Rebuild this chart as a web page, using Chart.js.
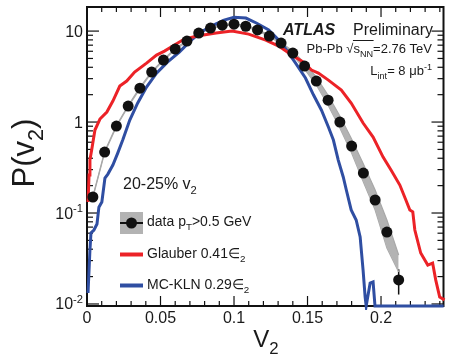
<!DOCTYPE html>
<html>
<head>
<meta charset="utf-8">
<script src="https://cdn.jsdelivr.net/npm/chart.js@4"></script>
<style>
  html, body { margin: 0; padding: 0; background: #fff; }
  #wrap { width: 449px; height: 357px; position: relative; }
</style>
</head>
<body>
<div id="wrap"><canvas id="pv2"></canvas></div>
<script>
const FONT = '"Liberation Sans", Arial, Helvetica, sans-serif';

// measured P(v2), 20-25% centrality, bin centres in v2
const dataV2 = [0.004, 0.012, 0.020, 0.028, 0.036, 0.044, 0.052, 0.060, 0.068, 0.076, 0.084, 0.092, 0.100, 0.108,
                0.116, 0.124, 0.132, 0.140, 0.148, 0.156, 0.164, 0.172, 0.180, 0.188, 0.196, 0.204, 0.212];
const dataP = [0.150, 0.468, 0.904, 1.50, 2.36, 3.54, 4.80, 6.34, 7.77, 9.51, 10.8, 11.6, 11.9, 11.3,
               10.3, 8.81, 7.38, 5.73, 4.12, 2.82, 1.74, 1.00, 0.545, 0.275, 0.139, 0.0618, 0.0184];
const dataStat = [0.004, 0.008, 0.012, 0.016, 0.02, 0.025, 0.03, 0.035, 0.04, 0.045, 0.05, 0.05, 0.05, 0.05,
                  0.05, 0.045, 0.04, 0.035, 0.03, 0.025, 0.02, 0.015, 0.01, 0.007, 0.005, 0.004, 0.0057];
// systematic band edges
const sysLow = [0.148, 0.461, 0.890, 1.48, 2.32, 3.49, 4.73, 6.25, 7.65, 9.37, 10.6, 11.4, 11.7, 11.1,
                10.1, 8.68, 7.27, 5.45, 3.82, 2.55, 1.53, 0.859, 0.456, 0.219, 0.108, 0.0412, 0.0225];
const sysHigh = [0.152, 0.475, 0.918, 1.52, 2.40, 3.59, 4.87, 6.44, 7.89, 9.65, 11.0, 11.8, 12.1, 11.5,
                 10.5, 8.94, 7.49, 6.03, 4.45, 3.12, 1.97, 1.164, 0.651, 0.345, 0.179, 0.0838, 0.0346];

// Glauber 0.41 eps2
const glauberV2 = [0.0007, 0.0014, 0.002, 0.0034, 0.0054, 0.0088, 0.0135, 0.0176, 0.0223, 0.027, 0.0324, 0.0405,
                   0.0473, 0.0527, 0.0595, 0.0662, 0.075, 0.0878, 0.0986, 0.110, 0.1216, 0.1304, 0.1392, 0.1473,
                   0.1527, 0.1574, 0.1642, 0.173, 0.1797, 0.1878, 0.1946, 0.2014, 0.2068, 0.2128, 0.2169, 0.2196,
                   0.2216, 0.223, 0.227, 0.2318, 0.2351, 0.2372, 0.2399, 0.2432];
const glauberP = [0.132, 0.262, 0.382, 0.518, 0.817, 1.08, 1.29, 1.70, 2.49, 2.82, 3.54, 4.45,
                  5.45, 6.03, 7.02, 8.17, 8.81, 9.51, 10.0, 9.27, 7.96, 6.84, 5.45, 4.56,
                  3.73, 3.45, 2.89, 2.25, 1.62, 0.975, 0.684, 0.412, 0.297, 0.203, 0.139, 0.108,
                  0.103, 0.065, 0.0363, 0.0268, 0.0282, 0.0184, 0.0119, 0.0111];

// MC-KLN 0.29 eps2 (empty bins are 0)
const klnV2 = [0.0007, 0.002, 0.0027, 0.0047, 0.0068, 0.0081, 0.0101, 0.0122, 0.0142, 0.0176, 0.0209, 0.0243,
               0.0291, 0.0345, 0.0405, 0.0473, 0.0547, 0.0628, 0.0709, 0.0777, 0.0845, 0.0932, 0.100, 0.1081,
               0.1155, 0.1236, 0.1304, 0.1358, 0.1419, 0.1486, 0.1541, 0.1595, 0.1642, 0.1676, 0.1709, 0.1743,
               0.1764, 0.1797, 0.1831, 0.1858, 0.1878, 0.1892, 0.1899, 0.1926, 0.1946, 0.1959, 0.2426];
const klnP = [0.0132, 0.0392, 0.0603, 0.065, 0.0757, 0.116, 0.132, 0.242, 0.268, 0.337, 0.456, 0.634,
              1.05, 1.62, 2.42, 3.45, 4.56, 5.88, 7.96, 9.75, 11.35, 13.2, 14.2, 13.9,
              12.2, 10.3, 7.96, 6.18, 4.45, 3.05, 1.98, 1.35, 0.881, 0.634, 0.382, 0.249,
              0.179, 0.108, 0.0838, 0.0545, 0.0236, 0.0119, 0, 0.017, 0.0175, 0, 0];

const xTickValues = [0, 0.05, 0.1, 0.15, 0.2];
const xTickLabels = ['0', '0.05', '0.1', '0.15', '0.2'];
const yTickValues = [0.01, 0.1, 1, 10];
const yTickLabels = [['10', '-2'], ['10', '-1'], ['1', ''], ['10', '']];

const X_MAX = 0.2425;
const Y_MIN = 0.0095;
const Y_MAX = 18.4;

const RED = '#ec2227';
const BLUE = '#2f4ea2';
const BAND = '#b3b3b3';

const pts = (xs, ys) => xs.map((v, i) => ({ x: v, y: ys[i] }));
// log axis can't show zero, so empty bins sit on the axis floor
const floorZeros = ys => ys.map(v => (v > 0 ? v : Y_MIN));

// text with sub/superscripts: parts are [text, 'n' | 'sub' | 'sup']
function richText(ctx, parts, x, y, size, align, style) {
  const pre = style ? style + ' ' : '';
  const pieces = parts.map(([t, k]) => {
    const s = k === 'n' ? size : size * 0.7;
    ctx.font = `${pre}${s}px ${FONT}`;
    return { t, k, s, w: ctx.measureText(t).width };
  });
  const total = pieces.reduce((a, p) => a + p.w, 0);
  let cx = align === 'right' ? x - total : align === 'center' ? x - total / 2 : x;
  ctx.textAlign = 'left';
  ctx.textBaseline = 'alphabetic';
  for (const p of pieces) {
    ctx.font = `${pre}${p.s}px ${FONT}`;
    const dy = p.k === 'sub' ? size * 0.3 : p.k === 'sup' ? -size * 0.42 : 0;
    ctx.fillText(p.t, cx, y + dy);
    p.x = cx;
    cx += p.w;
  }
  return pieces;
}

const decorations = {
  id: 'decorations',
  beforeDatasetsDraw(chart) {
    const { ctx, chartArea: a, scales: { x, y } } = chart;
    ctx.save();
    ctx.strokeStyle = '#111';
    ctx.lineWidth = 1.2;
    const seg = (x1, y1, x2, y2) => { ctx.beginPath(); ctx.moveTo(x1, y1); ctx.lineTo(x2, y2); ctx.stroke(); };

    // x ticks every 0.01, longer at 0.05
    for (let k = 0; k * 0.01 <= x.max + 1e-9; k++) {
      const px = x.getPixelForValue(k * 0.01);
      const len = k % 5 === 0 ? 10 : 5;
      seg(px, a.bottom, px, a.bottom - len);
      seg(px, a.top, px, a.top + len);
    }
    // y ticks: decades long, 2..9 short
    for (const d of yTickValues.concat([0.001])) {
      for (let m = 1; m <= 9; m++) {
        const v = m * d;
        if (v < y.min || v > y.max) continue;
        const py = y.getPixelForValue(v);
        const len = m === 1 ? 12 : 6;
        seg(a.left, py, a.left + len, py);
        seg(a.right, py, a.right - len, py);
      }
    }
    ctx.lineWidth = 2;
    ctx.strokeRect(a.left, a.top, a.right - a.left, a.bottom - a.top);

    // statistical error bars
    ctx.lineWidth = 1.5;
    dataV2.forEach((v, i) => {
      const px = x.getPixelForValue(v);
      seg(px, y.getPixelForValue(dataP[i] - dataStat[i]), px, y.getPixelForValue(dataP[i] + dataStat[i]));
    });
    ctx.restore();
  },
  afterDraw(chart) {
    const { ctx, chartArea: a, scales: { y } } = chart;
    ctx.save();
    ctx.fillStyle = '#1a1a1a';

    // y tick labels
    yTickValues.forEach((v, i) => {
      const py = y.getPixelForValue(v);
      const [base, exp] = yTickLabels[i];
      const parts = exp ? [[base, 'n'], [exp, 'sup']] : [[base, 'n']];
      richText(ctx, parts, a.left - 4, py + 5.5, 16, 'right');
    });

    // axis titles
    richText(ctx, [['V', 'n'], ['2', 'sub']], 266, 347, 24, 'center');
    ctx.save();
    ctx.translate(34, 153);
    ctx.rotate(-Math.PI / 2);
    richText(ctx, [['P(v', 'n'], ['2', 'sub'], [')', 'n']], 0, 0, 31, 'center');
    ctx.restore();

    // experiment labels
    richText(ctx, [['ATLAS', 'n']], 283, 35, 16, 'left', 'italic bold');
    richText(ctx, [['Preliminary', 'n']], 433, 35, 16, 'right');
    const pb = richText(ctx, [['Pb-Pb ', 'n'], ['\u221A', 'n'], ['s', 'n'], ['NN', 'sub'], ['=2.76 TeV', 'n']], 432, 53, 13, 'right');
    ctx.strokeStyle = '#1a1a1a';
    ctx.lineWidth = 1;
    ctx.beginPath();
    ctx.moveTo(pb[1].x + pb[1].w - 0.5, 53 - 12.5);
    ctx.lineTo(pb[3].x + pb[3].w + 0.5, 53 - 12.5);
    ctx.stroke();
    richText(ctx, [['L', 'n'], ['int', 'sub'], ['= 8 \u03BCb', 'n'], ['-1', 'sup']], 432, 75, 13, 'right');

    // legend
    richText(ctx, [['20-25% v', 'n'], ['2', 'sub']], 123, 189, 16, 'left');
    ctx.fillStyle = BAND;
    ctx.fillRect(120, 212, 23, 22);
    ctx.strokeStyle = '#111';
    ctx.lineWidth = 2;
    ctx.beginPath(); ctx.moveTo(120, 223); ctx.lineTo(143, 223); ctx.stroke();
    ctx.fillStyle = '#111';
    ctx.beginPath(); ctx.arc(131.5, 223, 5.5, 0, Math.PI * 2); ctx.fill();
    ctx.lineWidth = 4;
    ctx.strokeStyle = RED;
    ctx.beginPath(); ctx.moveTo(120, 254.5); ctx.lineTo(143, 254.5); ctx.stroke();
    ctx.strokeStyle = BLUE;
    ctx.beginPath(); ctx.moveTo(120, 285.5); ctx.lineTo(143, 285.5); ctx.stroke();
    ctx.fillStyle = '#1a1a1a';
    richText(ctx, [['data p', 'n'], ['T', 'sub'], ['>0.5 GeV', 'n']], 147, 226, 14, 'left');
    richText(ctx, [['Glauber 0.41\u2208', 'n'], ['2', 'sub']], 147, 258, 14, 'left');
    richText(ctx, [['MC-KLN 0.29\u2208', 'n'], ['2', 'sub']], 147, 289, 14, 'left');
    ctx.restore();
  }
};

new Chart(document.getElementById('pv2'), {
  type: 'line',
  data: {
    datasets: [
      {
        label: 'data',
        data: pts(dataV2, dataP),
        showLine: false,
        pointRadius: 5.5,
        pointBackgroundColor: '#111',
        pointBorderWidth: 0
      },
      {
        label: 'Glauber',
        data: pts(glauberV2, floorZeros(glauberP)),
        borderColor: RED,
        borderWidth: 3,
        pointRadius: 0,
        tension: 0,
        clip: 4
      },
      {
        label: 'MC-KLN',
        data: pts(klnV2, floorZeros(klnP)),
        borderColor: BLUE,
        borderWidth: 3,
        pointRadius: 0,
        tension: 0,
        clip: 4
      },
      {
        label: 'sys high',
        data: pts(dataV2, sysHigh),
        borderColor: '#a8a8a8',
        borderWidth: 1.2,
        backgroundColor: BAND,
        pointRadius: 0,
        fill: '+1'
      },
      {
        label: 'sys low',
        data: pts(dataV2, sysLow),
        borderColor: '#a8a8a8',
        borderWidth: 1.2,
        pointRadius: 0,
        fill: false
      }
    ]
  },
  options: {
    responsive: true,
    maintainAspectRatio: false,
    animation: false,
    layout: { padding: { top: 7, right: 3, left: 0, bottom: 0 } },
    plugins: { legend: { display: false }, tooltip: { enabled: false } },
    scales: {
      x: {
        type: 'linear',
        min: 0,
        max: X_MAX,
        afterBuildTicks: s => { s.ticks = xTickValues.map(v => ({ value: v })); },
        ticks: {
          callback: (v, i) => xTickLabels[i],
          font: { size: 16, family: FONT },
          color: '#1a1a1a',
          padding: 3,
          maxRotation: 0,
          autoSkip: false
        },
        grid: { display: false, drawTicks: false },
        border: { display: false },
        afterFit: s => { s.height = 51; }
      },
      y: {
        type: 'logarithmic',
        min: Y_MIN,
        max: Y_MAX,
        afterBuildTicks: s => { s.ticks = yTickValues.map(v => ({ value: v })); },
        ticks: { display: false },
        grid: { display: false, drawTicks: false },
        border: { display: false },
        afterFit: s => { s.width = 87; }
      }
    }
  },
  plugins: [decorations]
});
</script>
</body>
</html>
